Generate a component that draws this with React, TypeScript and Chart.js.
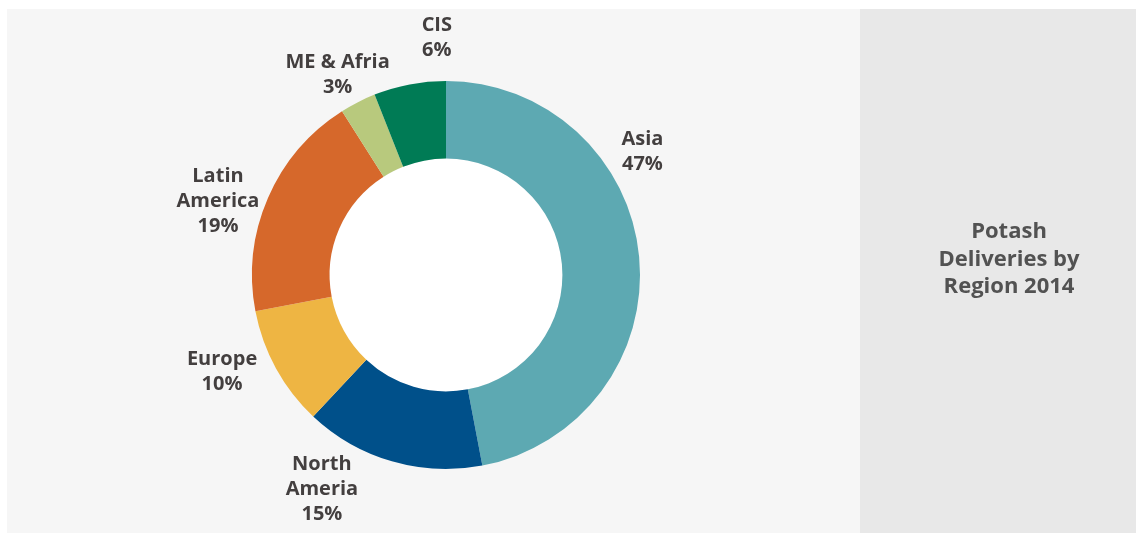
import React, { useEffect, useRef } from "react";
import { Chart, registerables } from "chart.js";

Chart.register(...registerables);

const categories = ["Asia", "North Ameria", "Europe", "Latin America", "ME & Afria", "CIS"];
const labelLines = [["Asia"], ["North", "Ameria"], ["Europe"], ["Latin", "America"], ["ME & Afria"], ["CIS"]];
const shares = [47, 15, 10, 19, 3, 6];
const colors = ["#5da9b2", "#00508a", "#eeb543", "#d6682b", "#b8c97d", "#007b55"];
const titleLines = ["Potash", "Deliveries by", "Region 2014"];

// label placement: angle (deg, clockwise from top) and distance in outer-radius units
const labelAngles = [57.6, 210.3, 247, 288.3, 331.8, 357.8];
const labelDistances = [1.199, 1.268, 1.254, 1.238, 1.182, 1.233];

const W = 1136;
const H = 533;

const panelPlugin = {
  id: "panels",
  beforeDraw(chart: any) {
    const ctx = chart.ctx;
    ctx.save();
    ctx.fillStyle = "#ffffff";
    ctx.fillRect(0, 0, W, H);
    ctx.fillStyle = "#f6f6f6";
    ctx.fillRect(7, 9, 853, 524);
    ctx.fillStyle = "#e8e8e8";
    ctx.fillRect(860, 9, W - 860, 524);
    // title
    ctx.fillStyle = "#525252";
    ctx.font = "bold 22px 'Open Sans'";
    ctx.textAlign = "center";
    ctx.textBaseline = "alphabetic";
    titleLines.forEach((t, i) => ctx.fillText(t, 1009, 238 + i * 27.5));
    ctx.restore();
  },
  beforeDatasetsDraw(chart: any) {
    const arc = chart.getDatasetMeta(0).data[0];
    if (!arc) return;
    const ctx = chart.ctx;
    ctx.save();
    ctx.fillStyle = "#ffffff";
    ctx.beginPath();
    ctx.arc(arc.x, arc.y, arc.innerRadius, 0, Math.PI * 2);
    ctx.fill();
    ctx.restore();
  },
  afterDatasetsDraw(chart: any) {
    const meta = chart.getDatasetMeta(0);
    const ctx = chart.ctx;
    ctx.save();
    ctx.fillStyle = "#433f3f";
    ctx.font = "bold 20px 'Open Sans'";
    ctx.textAlign = "center";
    ctx.textBaseline = "alphabetic";
    const lineH = 25;
    const cap = 14.5;
    meta.data.forEach((arc: any, i: number) => {
      const a = (labelAngles[i] * Math.PI) / 180;
      const d = arc.outerRadius * labelDistances[i];
      const cx = arc.x + Math.sin(a) * d;
      const cy = arc.y - Math.cos(a) * d;
      const lines = [...labelLines[i], `${shares[i]}%`];
      const blockH = cap + (lines.length - 1) * lineH;
      const first = cy - blockH / 2 + cap;
      lines.forEach((t, j) => ctx.fillText(t, cx, first + j * lineH));
    });
    ctx.restore();
  },
};

export default function App() {
  const ref = useRef<HTMLCanvasElement | null>(null);
  useEffect(() => {
    if (!ref.current) return;
    const chart = new Chart(ref.current, {
      type: "doughnut",
      data: {
        labels: categories,
        datasets: [
          {
            data: shares,
            backgroundColor: colors,
            borderWidth: 0,
          },
        ],
      },
      options: {
        responsive: false,
        animation: false,
        cutout: "60%",
        layout: { padding: { left: 252, right: 496, top: 81, bottom: 64 } },
        plugins: {
          legend: { display: false },
          tooltip: { enabled: false },
        },
      },
      plugins: [panelPlugin],
    });
    return () => chart.destroy();
  }, []);
  return (
    <div style={{ position: "absolute", left: 0, top: 0, width: W, height: H }}>
      <canvas ref={ref} width={W} height={H} style={{ display: "block", width: W, height: H }} />
    </div>
  );
}
